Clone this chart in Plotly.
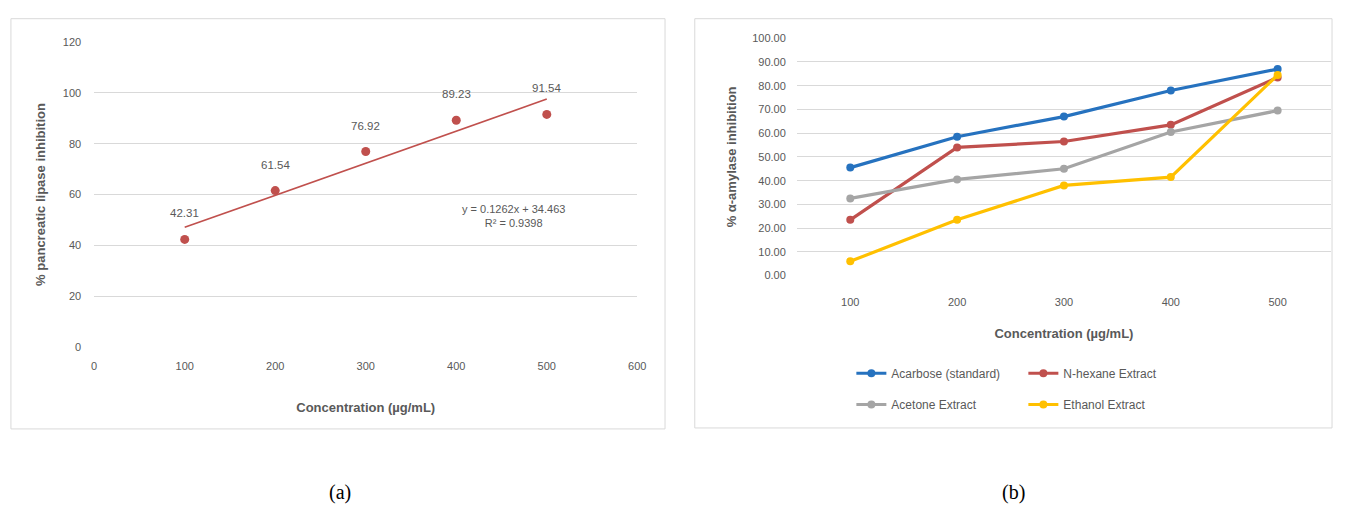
import plotly.graph_objects as go

W, H = 1346, 516

# ---- panel (a): pancreatic lipase inhibition ----
lipase_conc = [100, 200, 300, 400, 500]
lipase_inhib = [42.31, 61.54, 76.92, 89.23, 91.54]
trend_slope = 0.1262
trend_intercept = 34.463
trend_r2 = 0.9398
lipase_xticks = [0, 100, 200, 300, 400, 500, 600]
lipase_yticks = [0, 20, 40, 60, 80, 100, 120]

# ---- panel (b): alpha-amylase inhibition ----
amylase_conc = [100, 200, 300, 400, 500]
acarbose = [45.5, 58.5, 67.0, 78.0, 87.0]
nhexane = [23.5, 54.0, 56.5, 63.5, 83.5]
acetone = [32.5, 40.5, 45.0, 60.5, 69.5]
ethanol = [6.0, 23.5, 38.0, 41.5, 84.5]
amylase_yticks = [0, 10, 20, 30, 40, 50, 60, 70, 80, 90, 100]

series_names = ["Acarbose (standard)", "N-hexane Extract", "Acetone Extract", "Ethanol Extract"]
series_values = [acarbose, nhexane, acetone, ethanol]
series_colors = ["#2672bf", "#c0504d", "#a5a5a5", "#ffc000"]
series_legend = ["legend", "legend", "legend2", "legend2"]

TXT = "#595959"
GRID = "#d9d9d9"
RED = "#c0504d"
FONT = "Liberation Sans, Arial, sans-serif"


def px_x(p):
    return p / W


def px_y(p):
    return 1 - p / H


fig = go.Figure()

# panel (a) markers
fig.add_trace(go.Scatter(
    x=lipase_conc, y=lipase_inhib, mode="markers",
    marker=dict(color=RED, size=9),
    xaxis="x", yaxis="y", showlegend=False, hoverinfo="x+y",
))

# linear trendline from the fitted equation
trend_x = [lipase_conc[0], lipase_conc[-1]]
trend_y = [trend_slope * v + trend_intercept for v in trend_x]
fig.add_trace(go.Scatter(
    x=trend_x, y=trend_y, mode="lines",
    line=dict(color=RED, width=1.6),
    xaxis="x", yaxis="y", showlegend=False, hoverinfo="skip",
))

# panel (b) lines
for name, vals, col, lg in zip(series_names, series_values, series_colors, series_legend):
    fig.add_trace(go.Scatter(
        x=amylase_conc, y=vals, mode="lines+markers", name=name,
        line=dict(color=col, width=3.2),
        marker=dict(color=col, size=8, symbol="circle"),
        xaxis="x2", yaxis="y2", legend=lg,
    ))

annotations = []
# data labels above the lipase points
for xv, yv in zip(lipase_conc, lipase_inhib):
    annotations.append(dict(
        x=xv, y=yv, xref="x", yref="y", text=f"{yv:.2f}", showarrow=False,
        xanchor="center", yanchor="middle", yshift=26,
        font=dict(family=FONT, size=11.5, color=TXT),
    ))

# trendline equation
annotations.append(dict(
    x=px_x(515), y=px_y(215), xref="paper", yref="paper",
    xanchor="center", yanchor="middle",
    text=f"y = {trend_slope}x + {trend_intercept}<br>R² = {trend_r2}",
    showarrow=False, align="center",
    font=dict(family=FONT, size=11, color=TXT),
))

# panel captions
for label, cx in (("(a)", 340), ("(b)", 1020)):
    annotations.append(dict(
        x=px_x(cx), y=px_y(498), xref="paper", yref="paper", text=label,
        xanchor="center", yanchor="middle", showarrow=False,
        font=dict(family="Liberation Serif, Times New Roman, serif", size=20, color="#000000"),
    ))

shapes = [
    dict(type="rect", xref="paper", yref="paper",
         x0=px_x(8), x1=px_x(668), y0=px_y(433), y1=px_y(13),
         line=dict(color="#d9d9d9", width=1), fillcolor="rgba(0,0,0,0)"),
    dict(type="rect", xref="paper", yref="paper",
         x0=px_x(698), x1=px_x(1341), y0=px_y(432), y1=px_y(13),
         line=dict(color="#d9d9d9", width=1), fillcolor="rgba(0,0,0,0)"),
]

tickfont = dict(family=FONT, size=11, color=TXT)
titlefont = dict(family=FONT, size=13, color=TXT, weight="bold")

fig.update_layout(
    width=W, height=H,
    margin=dict(l=0, r=0, t=0, b=0),
    paper_bgcolor="white", plot_bgcolor="white",
    font=dict(family=FONT, color=TXT),
    xaxis=dict(
        domain=[px_x(92), px_x(640)], range=[0, 600], tickvals=lipase_xticks,
        showgrid=False, zeroline=False, showline=False, tickfont=tickfont,
        ticklabelstandoff=11, anchor="y",
        title=dict(text="Concentration (µg/mL)", font=titlefont, standoff=32),
    ),
    yaxis=dict(
        domain=[px_y(349), px_y(37)], range=[0, 120], tickvals=lipase_yticks,
        showgrid=True, gridcolor=GRID, gridwidth=1, zeroline=False, showline=False,
        tickfont=tickfont, ticklabelstandoff=12, anchor="x",
        title=dict(text="% pancreatic lipase inhibition", font=titlefont, standoff=14),
    ),
    xaxis2=dict(
        domain=[px_x(801), px_x(1340)], range=[50, 550], tickvals=amylase_conc,
        showgrid=False, zeroline=False, showline=False, tickfont=tickfont,
        ticklabelstandoff=18, anchor="y2",
        title=dict(text="Concentration (µg/mL)", font=titlefont, standoff=22),
    ),
    yaxis2=dict(
        domain=[px_y(276), px_y(33)], range=[0, 100], tickvals=amylase_yticks,
        tickformat=".2f",
        showgrid=True, gridcolor=GRID, gridwidth=1, zeroline=False, showline=False,
        tickfont=tickfont, ticklabelstandoff=10, anchor="x2",
        title=dict(text="% α-amylase inhibition", font=titlefont, standoff=12),
    ),
    legend=dict(
        orientation="h", x=px_x(856), y=px_y(376), xanchor="left", yanchor="middle",
        entrywidth=127, entrywidthmode="pixels",
        font=dict(family=FONT, size=12, color=TXT), bgcolor="rgba(0,0,0,0)",
    ),
    legend2=dict(
        orientation="h", x=px_x(856), y=px_y(408), xanchor="left", yanchor="middle",
        entrywidth=127, entrywidthmode="pixels",
        font=dict(family=FONT, size=12, color=TXT), bgcolor="rgba(0,0,0,0)",
    ),
    annotations=annotations,
    shapes=shapes,
    hovermode="closest",
)

fig.write_html("out.html")
